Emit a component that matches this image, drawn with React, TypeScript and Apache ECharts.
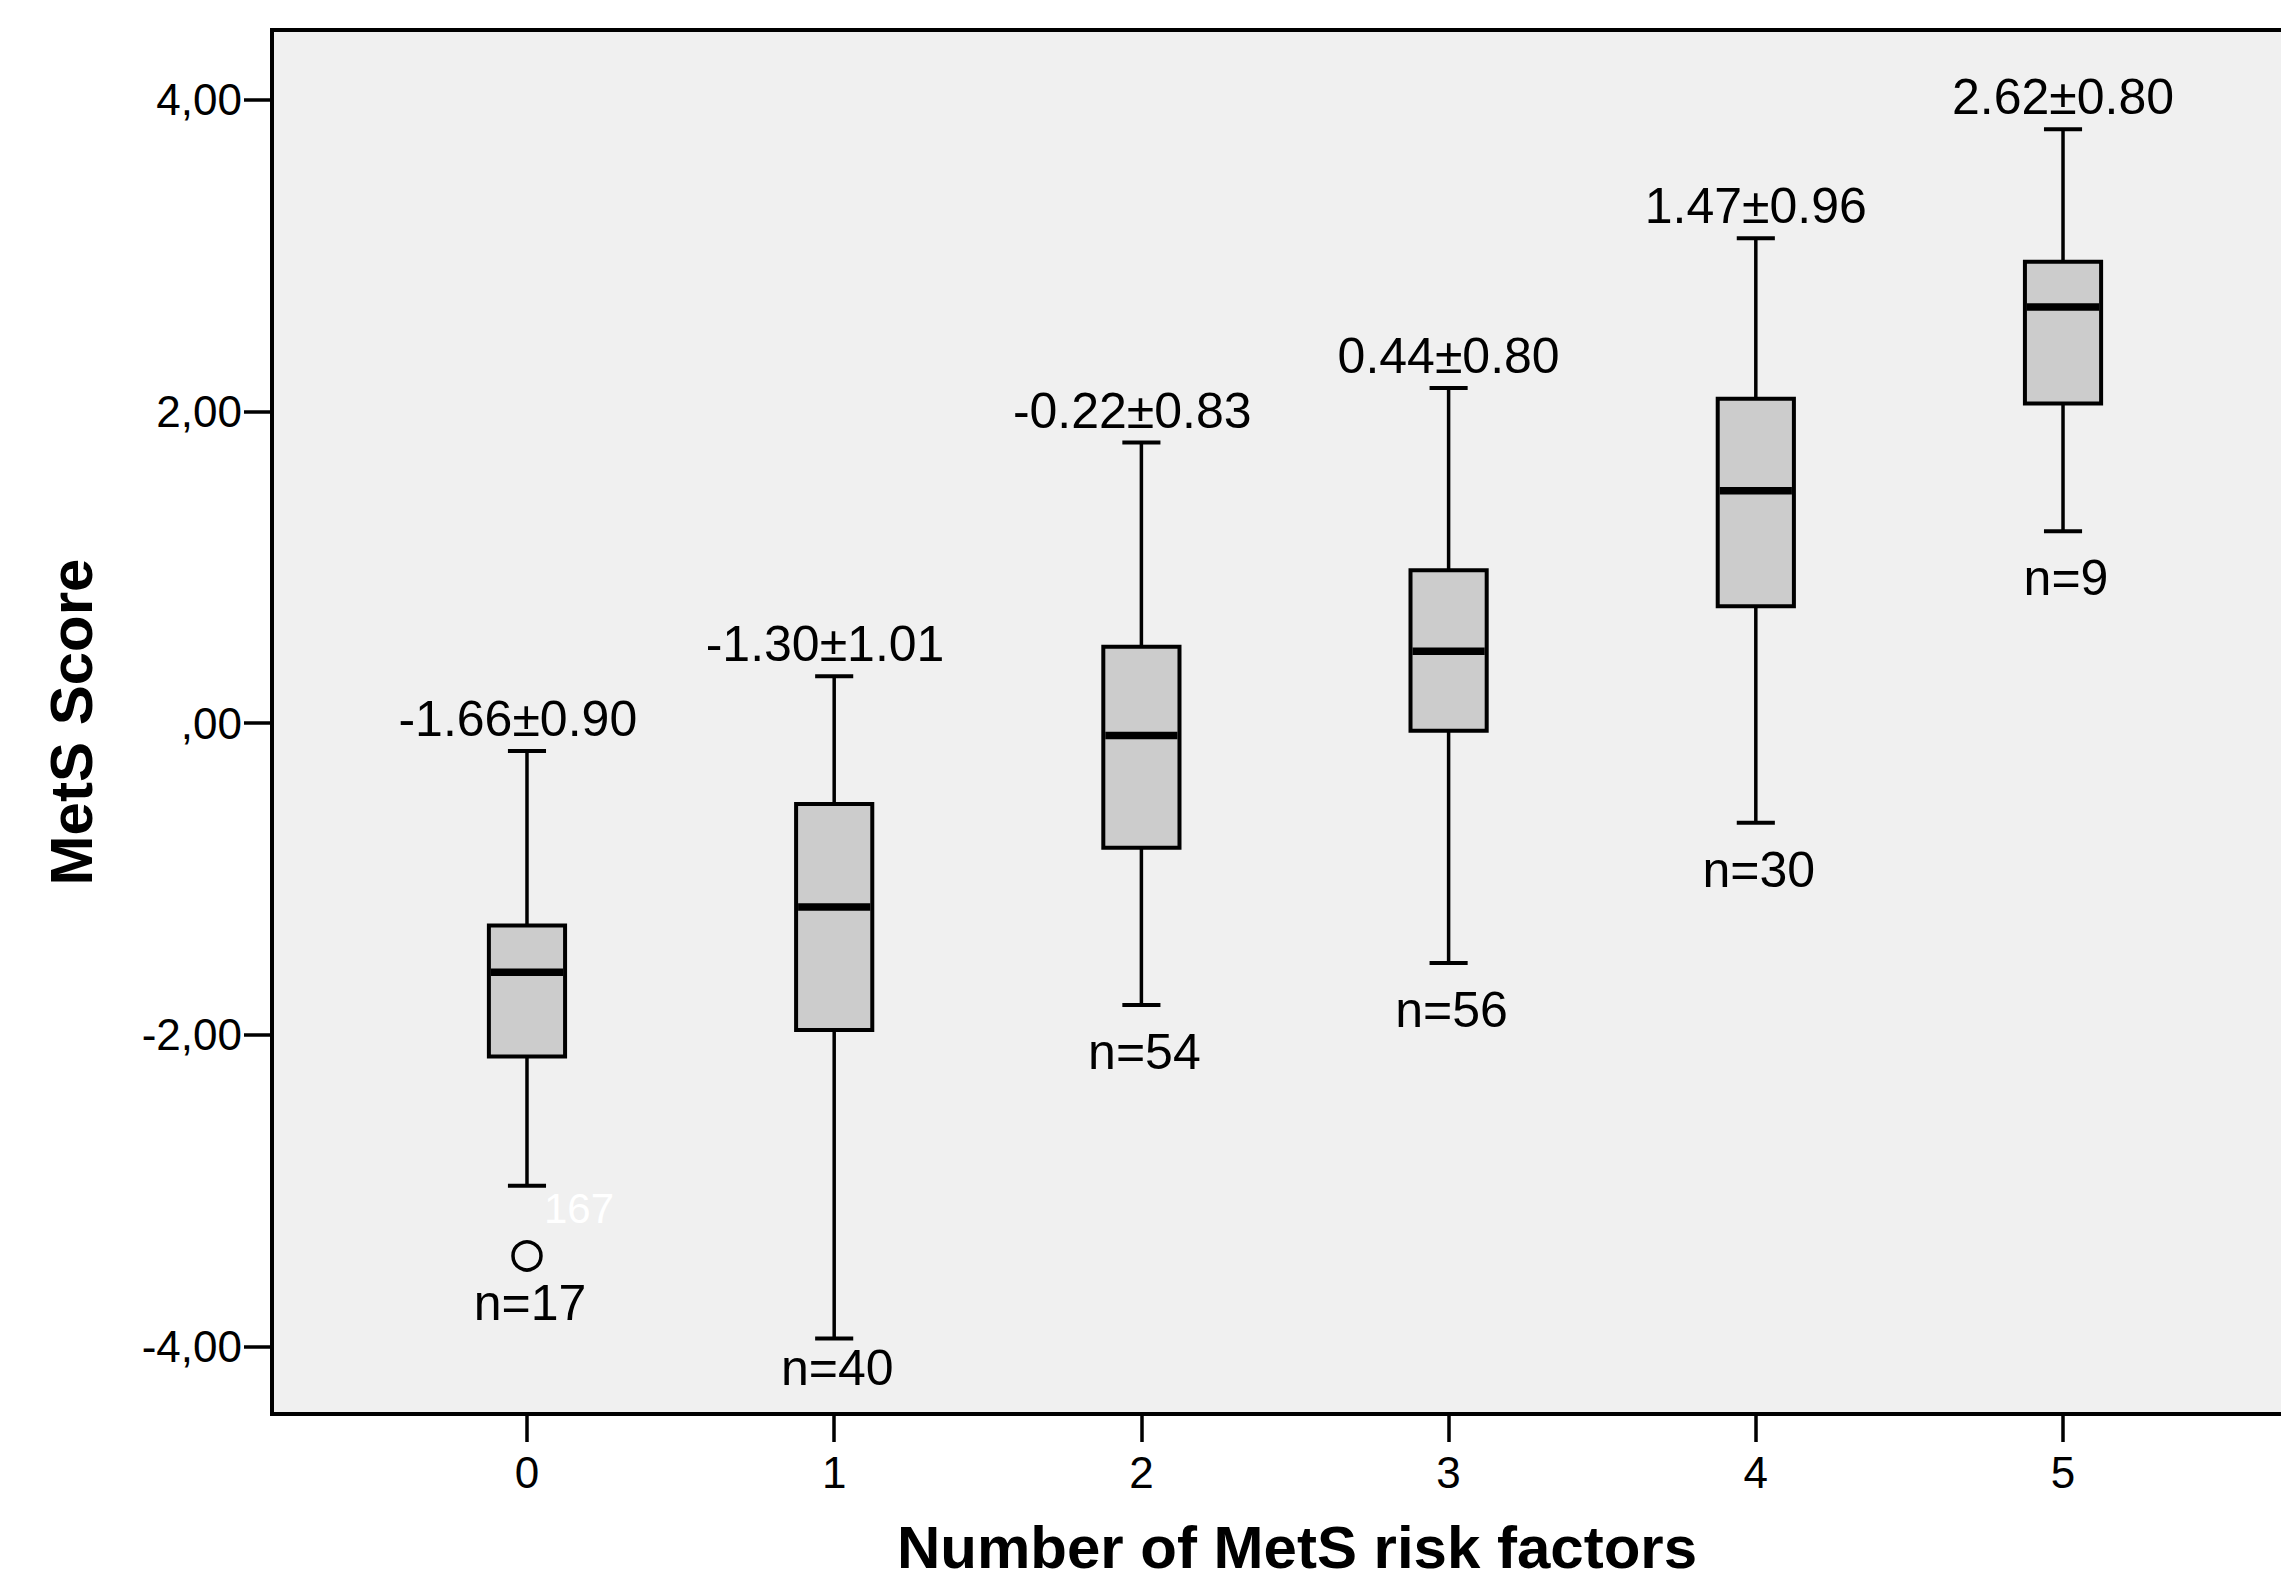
import React, { useEffect, useRef } from "react";
import * as echarts from "echarts";

// ---- data ----
const categories = [0, 1, 2, 3, 4, 5];
const whiskerLow = [-2.97, -3.95, -1.81, -1.54, -0.64, 1.23];
const quartile1 = [-2.14, -1.97, -0.8, -0.05, 0.75, 2.05];
const medians = [-1.6, -1.18, -0.08, 0.46, 1.49, 2.67];
const quartile3 = [-1.3, -0.52, 0.49, 0.98, 2.08, 2.96];
const whiskerHigh = [-0.18, 0.3, 1.8, 2.15, 3.11, 3.81];
const means = [-1.66, -1.3, -0.22, 0.44, 1.47, 2.62];
const sds = [0.9, 1.01, 0.83, 0.8, 0.96, 0.8];
const counts = [17, 40, 54, 56, 30, 9];
const outlierGroups = [0];
const outlierValues = [-3.42];
const outlierIds = ["167"];
const yTicks = [-4, -2, 0, 2, 4];
const xTicks = [0, 1, 2, 3, 4, 5];

const FONT = "'Liberation Sans', Arial, Helvetica, sans-serif";
const VALUE_FONT_SIZE = 50;

function fmtY(v: number): string {
  if (Math.abs(v) < 1e-9) return ",00";
  return v.toFixed(2).replace(".", ",");
}

export default function App() {
  const ref = useRef<HTMLDivElement>(null);

  useEffect(() => {
    if (!ref.current) return;
    const chart = echarts.init(ref.current, null, { renderer: "svg" });

    const boxData = categories.map((c, i) => [
      c,
      whiskerLow[i],
      quartile1[i],
      medians[i],
      quartile3[i],
      whiskerHigh[i],
    ]);

    const renderItem = (params: any, api: any) => {
      const i = params.dataIndex;
      const x = api.value(0);
      const cs = params.coordSys;
      const [cx, yLow] = api.coord([x, api.value(1)]);
      const yQ1 = api.coord([x, api.value(2)])[1];
      const yMed = api.coord([x, api.value(3)])[1];
      const yQ3 = api.coord([x, api.value(4)])[1];
      const yHigh = api.coord([x, api.value(5)])[1];
      const unit = api.size([1, 0])[0];
      const boxW = unit * 0.248;
      const capW = boxW / 2;

      let lowest = yLow;
      outlierGroups.forEach((g, k) => {
        if (g === x) {
          const py = api.coord([x, outlierValues[k]])[1];
          if (py > lowest) lowest = py;
        }
      });
      const nY = Math.min(lowest + 47, cs.y + cs.height - 46);
      // the number is centred without its minus sign, which is prepended on the left
      const minusShift = means[i] < 0 ? -0.333 * VALUE_FONT_SIZE * 0.55 : 0;

      const lineStyle = { stroke: "#000", lineWidth: 3.5 };
      return {
        type: "group",
        children: [
          { type: "line", shape: { x1: cx, y1: yHigh, x2: cx, y2: yQ3 }, style: lineStyle },
          { type: "line", shape: { x1: cx, y1: yQ1, x2: cx, y2: yLow }, style: lineStyle },
          { type: "line", shape: { x1: cx - capW / 2, y1: yHigh, x2: cx + capW / 2, y2: yHigh }, style: { stroke: "#000", lineWidth: 4 } },
          { type: "line", shape: { x1: cx - capW / 2, y1: yLow, x2: cx + capW / 2, y2: yLow }, style: { stroke: "#000", lineWidth: 4 } },
          {
            type: "rect",
            shape: { x: cx - boxW / 2, y: yQ3, width: boxW, height: yQ1 - yQ3 },
            style: { fill: "#cccccc", stroke: "#000", lineWidth: 4 },
          },
          {
            type: "line",
            shape: { x1: cx - boxW / 2 + 2, y1: yMed, x2: cx + boxW / 2 - 2, y2: yMed },
            style: { stroke: "#000", lineWidth: 7.5 },
          },
          {
            type: "text",
            x: cx + minusShift,
            y: yHigh - 32,
            style: {
              text: `${means[i].toFixed(2)}±${sds[i].toFixed(2)}`,
              align: "center",
              verticalAlign: "middle",
              fontSize: VALUE_FONT_SIZE,
              fontFamily: FONT,
              fill: "#000",
            },
          },
          {
            type: "text",
            x: cx + 3,
            y: nY,
            style: {
              text: `n=${counts[i]}`,
              align: "center",
              verticalAlign: "middle",
              fontSize: VALUE_FONT_SIZE,
              fontFamily: FONT,
              fill: "#000",
            },
          },
        ],
      };
    };

    const option: any = {
      animation: false,
      backgroundColor: "#ffffff",
      grid: {
        left: 272,
        top: 30,
        width: 2046,
        height: 1384,
        show: true,
        backgroundColor: "#f0f0f0",
        borderColor: "#000",
        borderWidth: 4,
        containLabel: false,
      },
      xAxis: {
        type: "value",
        min: -0.83,
        max: 5.83,
        splitLine: { show: false },
        axisLine: { show: true, onZero: false, lineStyle: { color: "#000", width: 4 } },
        axisTick: { show: true, length: 28, customValues: xTicks, lineStyle: { color: "#000", width: 3.5 } },
        axisLabel: {
          customValues: xTicks,
          margin: 36,
          fontSize: 44,
          fontFamily: FONT,
          color: "#000",
          formatter: (v: number) => String(v),
        },
      },
      yAxis: {
        type: "value",
        min: -4.434,
        max: 4.447,
        splitLine: { show: false },
        axisLine: { show: true, onZero: false, lineStyle: { color: "#000", width: 4 } },
        axisTick: { show: true, length: 28, customValues: yTicks, lineStyle: { color: "#000", width: 3.5 } },
        axisLabel: {
          customValues: yTicks,
          margin: 30,
          fontSize: 44,
          fontFamily: FONT,
          color: "#000",
          formatter: (v: number) => fmtY(v),
        },
      },
      series: [
        {
          type: "custom",
          renderItem,
          data: boxData,
          encode: { x: 0, y: [1, 2, 3, 4, 5] },
          silent: true,
        },
        {
          type: "scatter",
          data: outlierGroups.map((g, k) => [g, outlierValues[k], outlierIds[k]]),
          symbol: "circle",
          symbolSize: 28,
          itemStyle: { color: "rgba(0,0,0,0)", borderColor: "#000", borderWidth: 3.5, opacity: 1 },
          label: {
            show: true,
            position: "inside",
            offset: [52, -47],
            formatter: (p: any) => p.data[2],
            color: "#ffffff",
            fontSize: 42,
            fontFamily: FONT,
          },
          silent: true,
          z: 5,
        },
      ],
      graphic: [
        {
          type: "text",
          x: 71,
          y: 722,
          rotation: Math.PI / 2,
          style: {
            text: "MetS Score",
            align: "center",
            verticalAlign: "middle",
            fontSize: 60,
            fontWeight: "bold",
            fontFamily: FONT,
            fill: "#000",
          },
        },
        {
          type: "text",
          x: 1297,
          y: 1547,
          style: {
            text: "Number of MetS risk factors",
            align: "center",
            verticalAlign: "middle",
            fontSize: 60,
            lineHeight: 60,
            fontWeight: "bold",
            fontFamily: FONT,
            fill: "#000",
          },
        },
      ],
    };

    chart.setOption(option);
    return () => chart.dispose();
  }, []);

  return (
    <div
      style={{
        position: "fixed",
        left: 0,
        top: 0,
        width: 2281,
        height: 1587,
        background: "#ffffff",
        overflow: "hidden",
      }}
    >
      <div ref={ref} style={{ width: 2340, height: 1587 }} />
    </div>
  );
}
